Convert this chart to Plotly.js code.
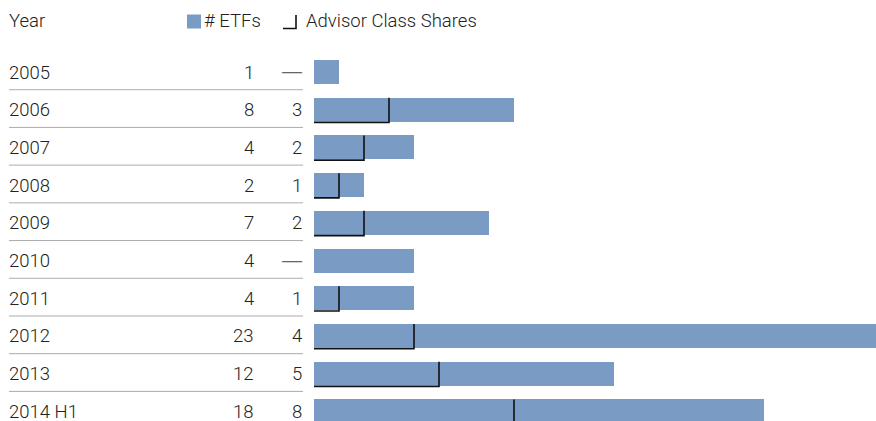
<!DOCTYPE html>
<html>
<head>
<meta charset="utf-8">
<script src="https://cdn.plot.ly/plotly-3.0.1.min.js"></script>
<style>html,body{margin:0;padding:0;background:#fff;}#chart{width:876px;height:421px;}</style>
</head>
<body>
<div id="chart"></div>
<script>
// ---- data ----
const years = ['2005','2006','2007','2008','2009','2010','2011','2012','2013','2014 H1'];
const etfs = [1, 8, 4, 2, 7, 4, 4, 23, 12, 18];
const advisor = [0, 3, 2, 1, 2, 0, 1, 4, 5, 8];
const headerYear = 'Year';
const legendEtf = '# ETFs';
const legendAdvisor = 'Advisor Class Shares';

// ---- geometry ----
const W = 876, H = 421;
const FONT = 'Roboto, "Liberation Sans Narrow", "DejaVu Sans Condensed", sans-serif';
const FS = 18.5;
const textColor = '#222222';
const barColor = '#7A9CC4';
const rowPx = 37.71, firstRowPx = 72;
const barW = 24 / rowPx;
const px = v => v / W;          // pixel -> paper x
const py = v => 1 - v / H;      // pixel -> paper y

const idx = years.map((_, i) => i);

const barTrace = {
  type: 'bar', orientation: 'h',
  x: etfs, y: idx, width: barW,
  marker: {color: barColor, line: {width: 0}},
  hoverinfo: 'skip', showlegend: false
};

// advisor markers: bottom line + vertical tick at value
const ax = [], ay = [];
idx.forEach(i => {
  const v = advisor[i];
  if (v > 0) {
    const bot = i + barW / 2 + 0.02, top = i - barW / 2;
    ax.push(0, v, v, null);
    ay.push(bot, bot, top, null);
  }
});
const advTrace = {
  type: 'scatter', mode: 'lines', x: ax, y: ay,
  line: {color: '#111111', width: 1.6},
  hoverinfo: 'skip', showlegend: false, cliponaxis: false
};

const annotations = [];
const shapes = [];
const tf = (color) => ({family: FONT, size: FS, color: color || textColor, weight: 300});

idx.forEach(i => {
  annotations.push({xref: 'paper', yref: 'y', x: px(7), y: i, xanchor: 'left', yanchor: 'middle',
    text: years[i], showarrow: false, font: tf(), yshift: -0.5});
  annotations.push({xref: 'paper', yref: 'y', x: px(256), y: i, xanchor: 'right', yanchor: 'middle',
    text: String(etfs[i]), showarrow: false, font: tf(), yshift: -0.5});
  if (advisor[i] > 0) {
    annotations.push({xref: 'paper', yref: 'y', x: px(304), y: i, xanchor: 'right', yanchor: 'middle',
      text: String(advisor[i]), showarrow: false, font: tf(), yshift: -0.5});
  } else {
    annotations.push({xref: 'paper', yref: 'y', x: px(304), y: i, xanchor: 'right', yanchor: 'middle',
      text: '—', showarrow: false, font: {family: '"Liberation Sans", Arial, sans-serif', size: 20, color: '#666666'}, yshift: 1});
  }
  if (i < years.length - 1) {
    shapes.push({type: 'line', xref: 'paper', yref: 'y', x0: px(9), x1: px(303), y0: i + 0.47, y1: i + 0.47,
      line: {color: '#ababab', width: 1}});
  }
});

// header
annotations.push({xref: 'paper', yref: 'paper', x: px(7), y: py(21), xanchor: 'left', yanchor: 'middle',
  text: headerYear, showarrow: false, font: tf()});
annotations.push({xref: 'paper', yref: 'paper', x: px(202), y: py(21), xanchor: 'left', yanchor: 'middle',
  text: legendEtf, showarrow: false, font: tf()});
annotations.push({xref: 'paper', yref: 'paper', x: px(304), y: py(21), xanchor: 'left', yanchor: 'middle',
  text: legendAdvisor, showarrow: false, font: tf()});
shapes.push({type: 'rect', xref: 'paper', yref: 'paper', x0: px(187), x1: px(201), y0: py(14.5), y1: py(28.5),
  fillcolor: barColor, line: {width: 0}});
shapes.push({type: 'path', xref: 'paper', yref: 'paper',
  path: `M ${px(283)} ${py(28.5)} L ${px(296)} ${py(28.5)} L ${px(296)} ${py(15)}`,
  line: {color: '#111111', width: 1.6}});

const layout = {
  width: W, height: H,
  margin: {l: 0, r: 0, t: 0, b: 0, pad: 0},
  paper_bgcolor: '#ffffff', plot_bgcolor: '#ffffff',
  xaxis: {domain: [314 / W, 1], range: [0, (W - 314) / 25], visible: false, fixedrange: true},
  yaxis: {range: [(H - firstRowPx) / rowPx, -firstRowPx / rowPx], visible: false, fixedrange: true},
  bargap: 0,
  annotations: annotations,
  shapes: shapes,
  showlegend: false
};

Plotly.newPlot('chart', [barTrace, advTrace], layout, {displayModeBar: false, staticPlot: true});
</script>
</body>
</html>
